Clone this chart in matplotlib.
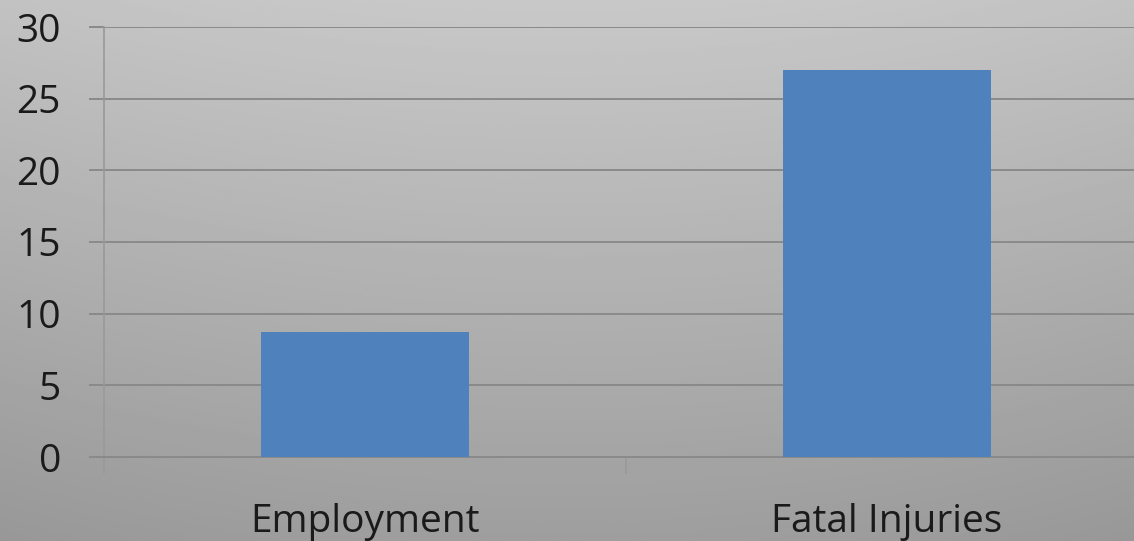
import matplotlib
matplotlib.use("Agg")
import matplotlib.pyplot as plt
import numpy as np

categories = ["Employment", "Fatal Injuries"]
values = [8.7, 27.0]
y_ticks = [0, 5, 10, 15, 20, 25, 30]

BAR_COLOR = "#4F81BD"
GRID_COLOR = "#8a8a8a"
TEXT_COLOR = "#1a1a1a"

plt.rcParams["font.family"] = ["Open Sans", "DejaVu Sans"]

fig = plt.figure(figsize=(11.34, 5.41), dpi=100)

# background gradient (lighter at top centre, darker towards bottom)
bg = fig.add_axes([0, 0, 1, 1], zorder=0)
yy, xx = np.mgrid[0:1:200j, -1:1:400j]
shade = 0.785 - 0.165 * yy - 0.025 * xx ** 2
bg.imshow(shade, cmap="gray", vmin=0, vmax=1, aspect="auto",
          extent=(0, 1, 0, 1), origin="upper")
bg.set_axis_off()

ax = fig.add_axes([104 / 1134, 84 / 541, 1044 / 1134, 430 / 541], zorder=1)
ax.patch.set_alpha(0)

x = np.arange(len(categories))
ax.bar(x, values, width=0.4, color=BAR_COLOR, zorder=3)

ax.set_ylim(0, 30)
ax.set_xlim(-0.5, len(categories) - 0.5)
ax.set_yticks(y_ticks)
ax.yaxis.grid(True, color=GRID_COLOR, linewidth=1.4, zorder=1)
ax.set_axisbelow(True)

ax.set_xticks(x)
ax.set_xticklabels(categories)
ax.set_xticks(np.arange(len(categories) + 1) - 0.5, minor=True)
ax.tick_params(axis="x", which="major", length=0, pad=33,
               labelsize=28, labelcolor=TEXT_COLOR)
ax.tick_params(axis="x", which="minor", length=12, width=1.2, color="#999999",
               direction="out")
ax.tick_params(axis="y", length=11, width=1.4, color=GRID_COLOR, pad=20,
               labelsize=28, labelcolor=TEXT_COLOR)

for side in ("top", "right"):
    ax.spines[side].set_visible(False)
ax.spines["left"].set_color("#999999")
ax.spines["left"].set_linewidth(1.2)
ax.spines["bottom"].set_color(GRID_COLOR)
ax.spines["bottom"].set_linewidth(1.4)

fig.savefig("out.png", dpi=100)
